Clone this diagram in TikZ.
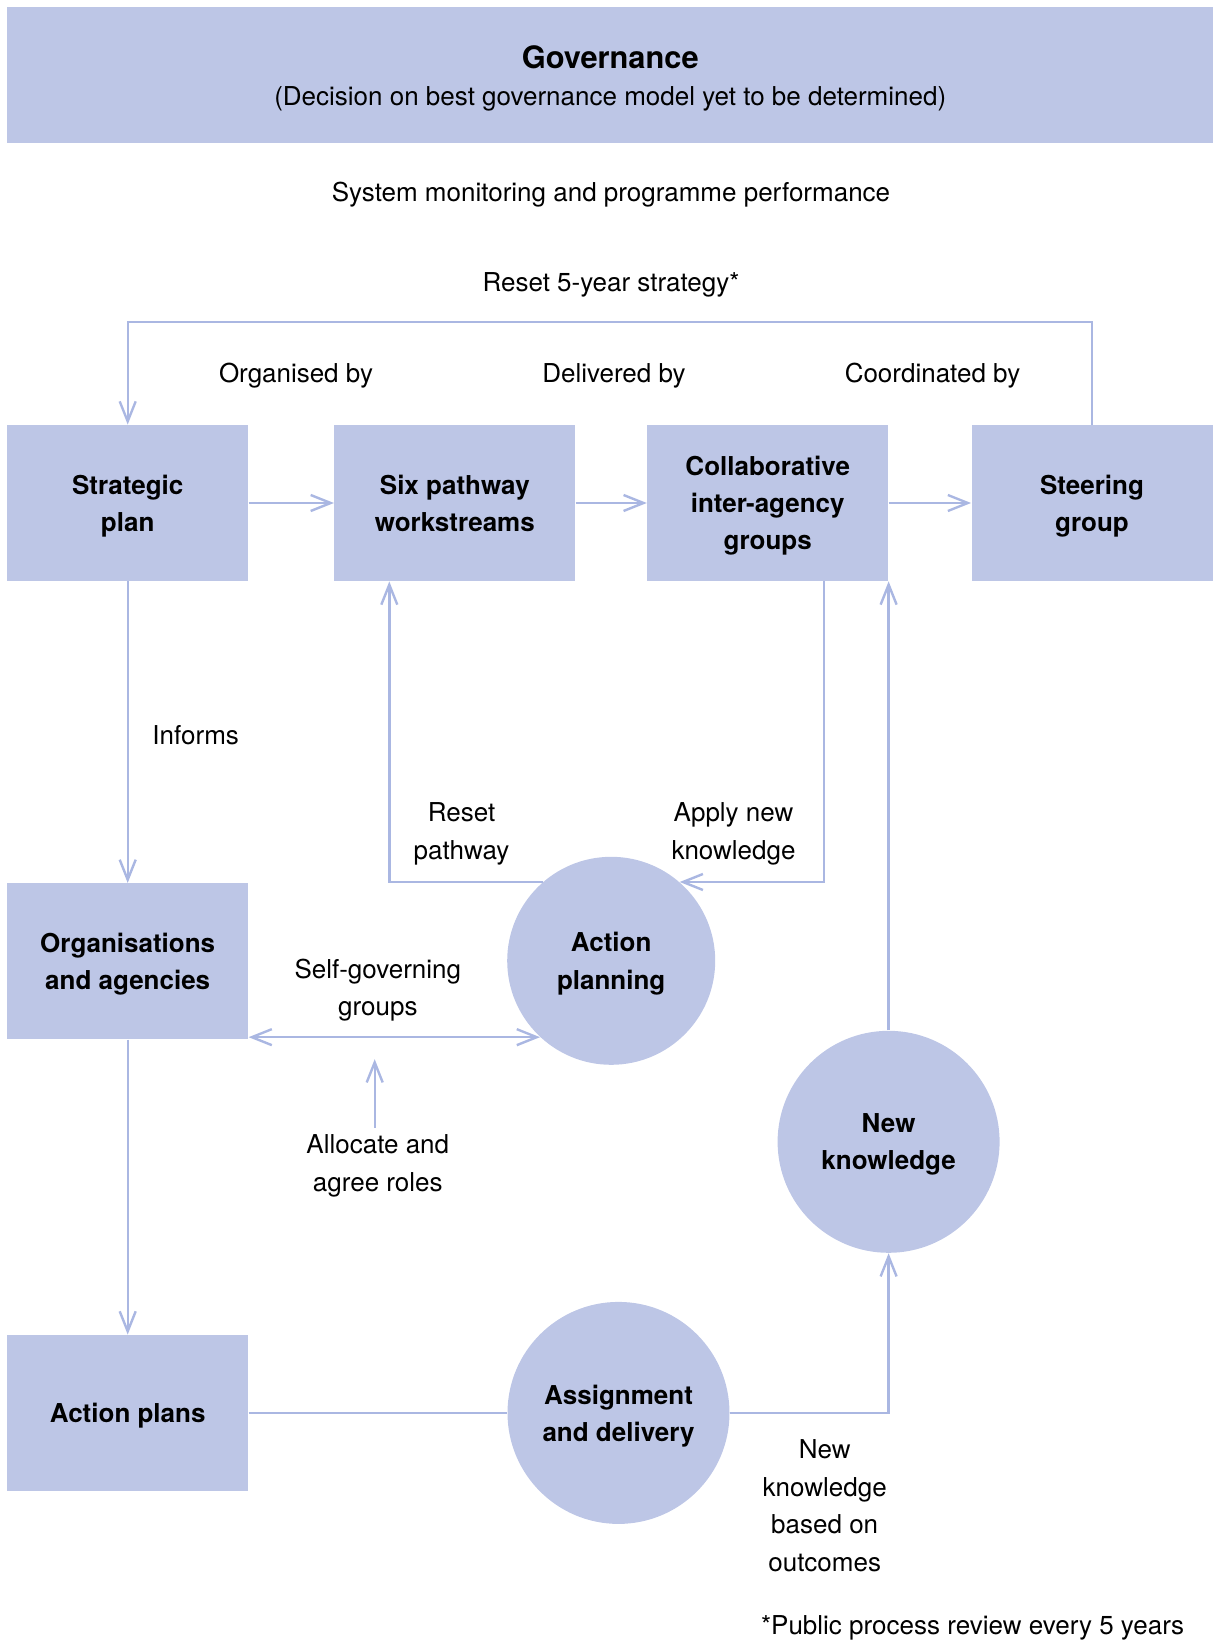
\documentclass[tikz,border=0pt]{standalone}
\usepackage{fontspec}
\setmainfont{TeX Gyre Heros}
\usetikzlibrary
  {
    arrows.meta,              % open barbed arrow heads
    positioning,              % place nodes relative to other nodes
    calc,
  }
\definecolor{boxblue}{RGB}{189,198,230}
\definecolor{lineblue}{RGB}{170,183,226}

\begin{document}
\begin{tikzpicture}
    [
      x=0.5pt, y=-0.5pt,
      font=\fontsize{13}{18.8}\selectfont,
      stage/.style=
        {
          rectangle,
          fill=boxblue,
          minimum width=120.5pt,
          minimum height=78pt,
          inner sep=0pt,
          text depth=0pt,
          align=center,
          font=\fontsize{13}{18.6}\selectfont\bfseries,
        },
      activity/.style=
        {
          circle,
          fill=boxblue,
          inner sep=0pt,
          text depth=0pt,
          align=center,
          font=\fontsize{13}{18.6}\selectfont\bfseries,
        },
      note/.style=
        {
          align=center,
        },
      flow/.style=
        {
          draw=lineblue,
          line width=1.2pt,
        },
      arrowed/.style=
        {
          flow,
          -{Straight Barb[length=10pt,width=8pt]},
        },
    ]
    \useasboundingbox (0,0) rectangle (1213,1641);

    % header
    \fill[boxblue] (7.3,7.3) rectangle (1213,143.4);
    \node[note] (governance) at (610.2,78.5)
      {{\fontsize{15.4}{18.8}\selectfont\bfseries Governance}\\(Decision on best governance model yet to be determined)};
    \node[note] (monitoring)     at (611,194.5) {System monitoring and programme performance};
    \node[note] (reset strategy) at (611,284.5) {Reset 5-year strategy*};

    \node[note] (organised)   at (296,375.6)   {Organised by};
    \node[note] (delivered)   at (614,375.6)   {Delivered by};
    \node[note] (coordinated) at (932.5,375.6) {Coordinated by};

    % boxes
    \node[stage] (strategic plan) at (127.7,503)    {Strategic\\plan};
    \node[stage] (six pathway)    at (454.8,503)    {Six pathway\\workstreams};
    \node[stage] (collaborative)  at (767.7,503)    {Collaborative\\inter-agency\\groups};
    \node[stage] (steering group) at (1092,503)     {Steering\\group};
    \node[stage] (organisations)  at (127.7,961.3)  {Organisations\\and agencies};
    \node[stage] (action plans)   at (127.7,1412.9) {Action plans};

    % circles
    \node[activity, minimum size=104pt] (action planning) at (611.2,960.8)  {Action\\planning};
    \node[activity, minimum size=111pt] (new knowledge)   at (888.6,1141.8) {New\\knowledge};
    \node[activity, minimum size=111pt] (assignment)      at (618.5,1412.9) {Assignment\\and delivery};

    % labels
    \node[note] (informs)        at (195.7,735.6)  {Informs};
    \node[note] (reset pathway)  at (461.5,834)    {Reset\\pathway};
    \node[note] (apply)          at (733.5,834)    {Apply new\\knowledge};
    \node[note] (self governing) at (377.8,990)    {Self-governing\\groups};
    \node[note] (allocate)       at (377.8,1165.7) {Allocate and\\agree roles};
    \node[note] (outcomes)       at (824.7,1505.8) {New\\knowledge\\based on\\outcomes};
    \node[note, anchor=west] (review) at (754,1628.3) {*Public process review every 5 years};

    \coordinate (allocate tip) at (374.7,1059.2);

    % connectors
    \draw[arrowed] (strategic plan) -- (six pathway);
    \draw[arrowed] (six pathway) -- (collaborative);
    \draw[arrowed] (collaborative) -- (steering group);
    \draw[arrowed] (steering group.north) -- ++(0,-102.6) -| (strategic plan.north);
    \draw[arrowed] (strategic plan) -- (organisations);
    \draw[arrowed] (organisations) -- (action plans);
    \draw[flow] (action plans) -- (assignment);
    \draw[arrowed] (assignment.east) -| (new knowledge.south);
    \draw[arrowed] (new knowledge.north) -- (new knowledge.north |- collaborative.south);
    \draw[arrowed] (action planning.131) -| ([xshift=-32.75pt]six pathway.south);
    \draw[arrowed] ([xshift=28pt]collaborative.south) |- (action planning.49);
    \draw[flow, {Straight Barb[length=10pt,width=8pt]}-{Straight Barb[length=10pt,width=8pt]}]
      (action planning.-133 -| organisations.east) -- (action planning.-133);
    \draw[arrowed] (allocate.north -| allocate tip) -- (allocate tip);
\end{tikzpicture}
\end{document}
